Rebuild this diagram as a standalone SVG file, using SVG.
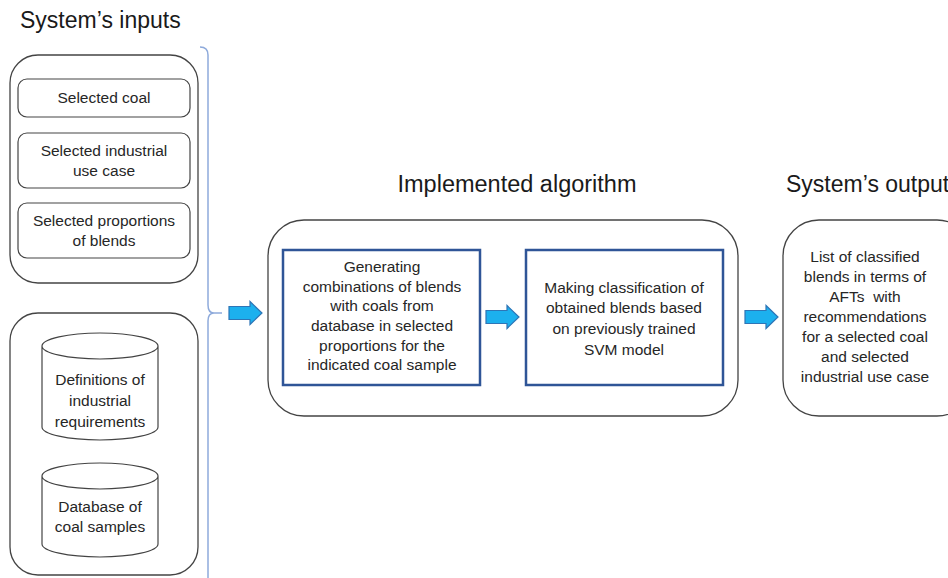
<svg xmlns="http://www.w3.org/2000/svg" width="948" height="578" viewBox="0 0 948 578">
<style>
.title{font-family:"Liberation Sans",Arial,sans-serif;font-size:23px;fill:#1a1a1a}
.t{font-family:"Liberation Sans",Arial,sans-serif;font-size:15.5px;fill:#262626;text-anchor:middle}
.pre{white-space:pre}
.outer{fill:#fff;stroke:#444;stroke-width:1.3}
.inner{fill:#fff;stroke:#444;stroke-width:1.2}
.blue{fill:#fff;stroke:#2F5597;stroke-width:2.5}
.cyl{fill:#fff;stroke:#444;stroke-width:1.2}
.arrow{fill:#1CB0EE;stroke:#2E75B6;stroke-width:1.2}
.brace{fill:none;stroke:#8EAADB;stroke-width:1.5}
</style>
<defs>
<path id="arr" d="M0,-6.5 H21 V-11.5 L33,0 L21,11.5 V6.5 H0 Z"/>
</defs>
<rect width="948" height="578" fill="#fff"/>
<text class="title" x="20" y="28">System’s inputs</text>
<text class="title" x="517" y="192" text-anchor="middle" style="font-size:23.5px">Implemented algorithm</text>
<text class="title" x="786" y="192">System’s output</text>

<g id="inputs-selected">
<rect class="outer" x="10" y="55" width="188" height="228" rx="28"/>
</g>
<g id="selected-coal">
<rect class="inner" x="18" y="79" width="172" height="38" rx="9"/>
<text class="t" x="104" y="103">Selected coal</text>
</g>
<g id="selected-use-case">
<rect class="inner" x="18" y="133" width="172" height="55" rx="9"/>
<text class="t" x="104" y="156">Selected industrial</text>
<text class="t" x="104" y="176">use case</text>
</g>
<g id="selected-proportions">
<rect class="inner" x="18" y="203" width="172" height="55" rx="9"/>
<text class="t" x="104" y="226">Selected proportions</text>
<text class="t" x="104" y="246">of blends</text>
</g>

<g id="inputs-databases">
<rect class="outer" x="10" y="313" width="188" height="262" rx="28"/>
</g>
<g id="definitions">
<path class="cyl" d="M42,346 V427 A58,13 0 0 0 158,427 V346 A58,13 0 0 0 42,346 A58,13 0 0 0 158,346"/>
<text class="t" x="100" y="385">Definitions of</text>
<text class="t" x="100" y="406">industrial</text>
<text class="t" x="100" y="427">requirements</text>
</g>
<g id="database">
<path class="cyl" d="M42,476 V544 A58,13 0 0 0 158,544 V476 A58,13 0 0 0 42,476 A58,13 0 0 0 158,476"/>
<text class="t" x="100" y="512">Database of</text>
<text class="t" x="100" y="532">coal samples</text>
</g>

<g id="algorithm">
<rect class="outer" x="268" y="220" width="470" height="196" rx="36"/>
</g>
<g id="generating">
<rect class="blue" x="283" y="250" width="197" height="135"/>
<text class="t" x="382" y="272">Generating</text>
<text class="t" x="382" y="292">combinations of blends</text>
<text class="t" x="382" y="311">with coals from</text>
<text class="t" x="382" y="331">database in selected</text>
<text class="t" x="382" y="351">proportions for the</text>
<text class="t" x="382" y="370">indicated coal sample</text>
</g>
<g id="classification">
<rect class="blue" x="526" y="250" width="197" height="135"/>
<text class="t" x="624" y="293">Making classification of</text>
<text class="t" x="624" y="313">obtained blends based</text>
<text class="t" x="624" y="334">on previously trained</text>
<text class="t" x="624" y="355">SVM model</text>
</g>

<g id="output">
<rect class="outer" x="783" y="220" width="190" height="196" rx="36"/>
<text class="t" x="865" y="262">List of classified</text>
<text class="t" x="865" y="282">blends in terms of</text>
<text class="t pre" x="865" y="302">AFTs  with</text>
<text class="t" x="865" y="322">recommendations</text>
<text class="t" x="865" y="342">for a selected coal</text>
<text class="t" x="865" y="362">and selected</text>
<text class="t" x="865" y="382">industrial use case</text>
</g>

<g id="connectors">
<path class="brace" d="M200,47 Q208,47 208,55 V305 Q208,313 214,313 Q208,313 208,321 V578"/>
<line class="brace" x1="214" y1="313" x2="222" y2="313"/>
<use href="#arr" class="arrow" x="229" y="313"/>
<use href="#arr" class="arrow" x="486" y="317"/>
<use href="#arr" class="arrow" x="745" y="317"/>
</g>
</svg>
